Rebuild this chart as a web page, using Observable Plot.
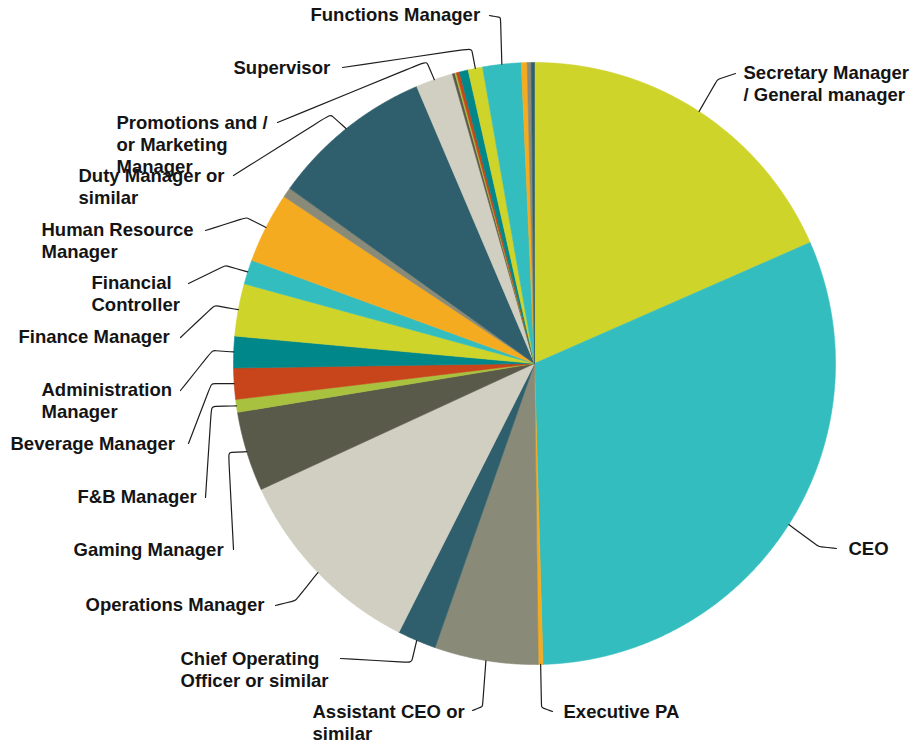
<!DOCTYPE html>
<html>
<head>
<meta charset="utf-8">
<script src="https://cdn.jsdelivr.net/npm/d3@7"></script>
<script src="https://cdn.jsdelivr.net/npm/@observablehq/plot@0.6"></script>
<style>
  html, body { margin: 0; padding: 0; background: #ffffff; }
</style>
</head>
<body>
<div id="chart"></div>
<script>
// ---- Data (share of respondents, %) ----
const categories = [
  "Secretary Manager\n/ General manager",
  "CEO",
  "Executive PA",
  "Assistant CEO or\nsimilar",
  "Chief Operating\nOfficer or similar",
  "Operations Manager",
  "Gaming Manager",
  "F&B Manager",
  "Beverage Manager",
  "Administration\nManager",
  "Finance Manager",
  "Financial\nController",
  "Human Resource\nManager",
  null,
  "Duty Manager or\nsimilar",
  "Promotions and /\nor Marketing\nManager",
  null,
  null,
  null,
  null,
  "Supervisor",
  "Functions Manager",
  null,
  null,
  null
];
const shares = [
  18.42, 31.14, 0.25, 5.56, 2.08, 10.69, 4.28, 0.69, 1.67, 1.69,
  2.81, 1.31, 3.78, 0.53, 8.72, 2.00, 0.14, 0.08, 0.17, 0.47,
  0.78, 2.06, 0.31, 0.22, 0.17
];
const palette = [
  "#cfd42b", "#34bdbf", "#f5ab20", "#8a8a78", "#2f5f6c",
  "#d0cfc1", "#5a5a4b", "#a8c13e", "#c8451b", "#00878a"
];

// ---- Layout (pixel positions of labels and leader-line elbows) ----
const cx = 534, cy = 363, R = 301;
const fontSize = 18.5;
const labelLayout = [
  {i: 0,  tx: 743, ty: 73,  sx: 735, sy: 73,  kx: 717, ky: 79},
  {i: 1,  tx: 848, ty: 549, sx: 836, sy: 548, kx: 818, ky: 546},
  {i: 2,  tx: 563, ty: 712, sx: 552, sy: 711, kx: 541, ky: 707},
  {i: 3,  tx: 312, ty: 712, sx: 472, sy: 710, kx: 482, ky: 706},
  {i: 4,  tx: 180, ty: 659, sx: 340, sy: 658, kx: 411, ky: 662},
  {i: 5,  tx: 85,  ty: 605, sx: 275, sy: 605, kx: 295, ky: 600},
  {i: 6,  tx: 73,  ty: 550, sx: 233, sy: 549, kx: 228, ky: 452},
  {i: 7,  tx: 77,  ty: 497, sx: 205, sy: 497, kx: 211, ky: 406},
  {i: 8,  tx: 10,  ty: 444, sx: 188, sy: 443, kx: 211, ky: 383},
  {i: 9,  tx: 41,  ty: 390, sx: 180, sy: 390, kx: 212, ky: 350},
  {i: 10, tx: 18,  ty: 337, sx: 180, sy: 337, kx: 214, ky: 305},
  {i: 11, tx: 91,  ty: 283, sx: 188, sy: 283, kx: 225, ky: 265},
  {i: 12, tx: 41,  ty: 230, sx: 205, sy: 230, kx: 246, ky: 217},
  {i: 14, tx: 78,  ty: 176, sx: 233, sy: 175, kx: 330, ky: 114},
  {i: 15, tx: 116, ty: 123, sx: 277, sy: 122, kx: 426, ky: 61},
  {i: 20, tx: 233, ty: 68,  sx: 342, sy: 67,  kx: 471, ky: 48},
  {i: 21, tx: 310, ty: 15,  sx: 489, sy: 15,  kx: 500, ky: 17}
];

// ---- Derived geometry from the data ----
const arcs = d3.pie().sort(null).value(d => d)(shares);
const slices = arcs.map((a, i) => ({
  i,
  name: categories[i],
  start: a.startAngle,
  end: a.endAngle,
  mid: (a.startAngle + a.endAngle) / 2
}));
const slicePts = slices.flatMap(s => {
  const n = Math.max(2, Math.ceil((s.end - s.start) / 0.004));
  const pts = [{i: s.i, x: cx, y: cy}];
  for (let k = 0; k <= n; k++) {
    const a = s.start + (s.end - s.start) * k / n;
    pts.push({i: s.i, x: cx + R * Math.sin(a), y: cy - R * Math.cos(a)});
  }
  pts.push({i: s.i, x: cx, y: cy});
  return pts;
});
const leaderPts = labelLayout.flatMap(L => {
  const s = slices[L.i];
  const ex = cx + R * Math.sin(s.mid), ey = cy - R * Math.cos(s.mid);
  return [
    {i: L.i, x: L.sx, y: L.sy},
    {i: L.i, x: L.kx, y: L.ky},
    {i: L.i, x: L.kx, y: L.ky},
    {i: L.i, x: ex, y: ey}
  ];
});
const labelData = labelLayout.map(L => ({
  x: L.tx,
  y: L.ty - 0.53 * fontSize,
  text: slices[L.i].name
}));

const chart = Plot.plot({
  width: 914,
  height: 743,
  margin: 0,
  x: {type: "linear", domain: [0, 914], range: [0, 914], axis: null},
  y: {type: "linear", domain: [0, 743], range: [0, 743], axis: null},
  color: {type: "ordinal", domain: slices.map(s => s.i), range: slices.map(s => palette[s.i % palette.length])},
  style: {background: "#ffffff", overflow: "visible"},
  marks: [
    Plot.line(slicePts, {x: "x", y: "y", z: "i", fill: "i", stroke: "i", strokeWidth: 0.6, curve: "linear"}),
    Plot.line(leaderPts, {x: "x", y: "y", z: "i", curve: "basis", stroke: "#1e1e1e", strokeWidth: 1.2, fill: "none"}),
    Plot.text(labelData, {
      x: "x", y: "y", text: "text",
      textAnchor: "start", lineAnchor: "top", lineHeight: 1.19,
      fontSize: fontSize, fontWeight: "bold",
      fontFamily: "'Liberation Sans', Arial, sans-serif",
      fill: "#141414"
    })
  ]
});
document.getElementById("chart").appendChild(chart);
</script>
</body>
</html>
